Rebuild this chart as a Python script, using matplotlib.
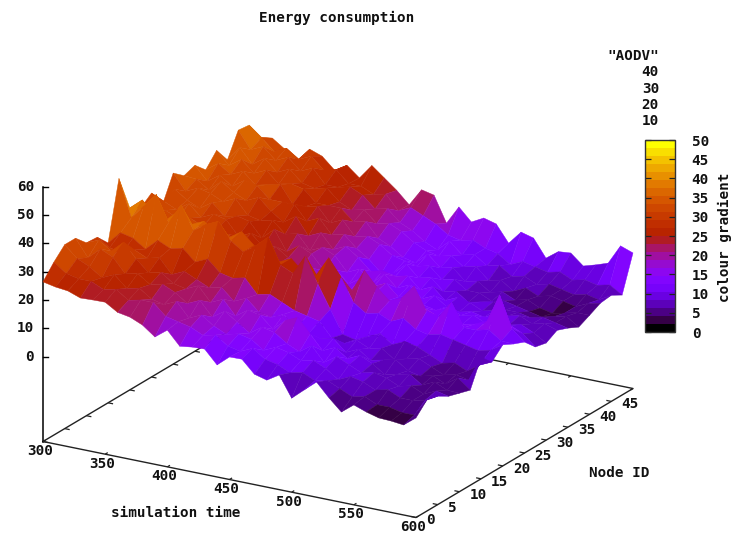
import numpy as np
import matplotlib
matplotlib.use("Agg")
import matplotlib.pyplot as plt
from matplotlib.collections import PolyCollection, LineCollection
from matplotlib.colors import ListedColormap, Normalize
from matplotlib.cm import ScalarMappable

title = "Energy consumption"
xlabel = "simulation time"
ylabel = "Node ID"
cblabel = "colour gradient"
legend_name = '"AODV"'
contour_levels = [40, 30, 20, 10]
xticks = [300, 350, 400, 450, 500, 550, 600]
yticks = [0, 5, 10, 15, 20, 25, 30, 35, 40, 45]
zticks = [0, 10, 20, 30, 40, 50, 60]
cbticks = [0, 5, 10, 15, 20, 25, 30, 35, 40, 45, 50]

times = [300, 310, 320, 330, 340, 350, 360, 370, 380, 390, 400, 410, 420, 430, 440, 450,
         460, 470, 480, 490, 500, 510, 520, 530, 540, 550, 560, 570, 580, 590, 600]
nodes = [0, 2.5, 5, 7.5, 10, 12.5, 15, 17.5, 20, 22.5, 25, 27.5, 30, 32.5, 35, 37.5, 40, 42.5, 45, 47.5, 50]
energy = [
    [26.4, 31.1, 35, 35, 31.1, 30.8, 26.5, 47, 34.3, 32, 35, 28.5, 37.5, 34.3, 35.7, 31.8, 36.4, 30.8, 39, 38.5, 30.9],
    [25.5, 28, 31, 29, 33, 28, 31, 34, 38, 31, 33, 35, 32, 34, 31, 35, 32, 36, 33, 35, 32.5],
    [25, 27, 29, 33, 30, 27, 30, 39, 34, 33, 31, 32, 34, 31, 34, 32, 35, 31, 35, 31, 29.5],
    [23.4, 27, 26, 31, 34, 29, 27, 44, 33, 31, 34, 30, 33, 35, 31, 34, 31, 34, 31, 33, 26.5],
    [23.6, 25, 28, 26, 29, 27, 31, 35, 37, 32, 30, 33, 31, 32, 34, 30, 33, 30, 33, 30, 31.3],
    [23.7, 26, 24, 27, 25, 28, 29, 42, 33, 30, 32, 29, 33, 30, 33, 31, 29, 32, 29, 32, 29.7],
    [21, 23, 25, 24, 26, 23, 30, 34, 35, 29, 31, 30, 28, 32, 29, 32, 30, 28, 31, 28, 25.7],
    [20.2, 24, 22, 25, 23, 25, 26, 37, 31, 29, 26, 29, 27, 28, 29, 26, 29, 27, 26, 29, 28.3],
    [18.3, 24, 21, 23, 22, 23, 28, 39, 31, 26, 28, 24, 28, 25, 29, 26, 25, 28, 26, 25, 24.7],
    [15, 20, 23, 20, 24, 21, 24, 33, 34, 26, 24, 28, 24, 28, 24, 27, 25, 24, 27, 25, 30],
    [18.3, 19, 18, 22, 19, 22, 23, 30, 30, 24, 25, 21, 25, 22, 26, 22, 25, 22, 25, 23, 26.5],
    [13.5, 18, 20, 17, 21, 18, 24, 33, 29, 22, 22, 24, 20, 24, 21, 24, 21, 23, 21, 24, 23],
    [14.1, 16, 17, 20, 16, 20, 19, 37, 26, 22, 19, 22, 22, 19, 22, 19, 22, 19, 22, 19, 18.8],
    [14.3, 17, 15, 17, 19, 16, 20, 28, 28, 19, 20, 17, 20, 21, 18, 20, 17, 20, 18, 21, 25],
    [9.6, 14, 16, 14, 18, 15, 18, 26, 24, 20, 16, 18, 15, 18, 15, 18, 15, 18, 16, 19, 24],
    [13.3, 13, 15, 17, 14, 17, 16, 33, 24, 17, 17, 14, 17, 14, 11, 15, 12, 15, 13, 17, 15],
    [13.4, 15, 12, 16, 18, 13, 15, 24, 31, 17, 15, 17, 13, 15, 12, 14, 11, 13, 11, 14, 21.6],
    [9, 12, 14, 13, 20, 12, 14, 16, 25, 18, 19, 15, 17, 14, 16, 13, 15, 12, 15, 13, 17.2],
    [7.8, 11, 13, 11, 15, 11, 9, 8, 17, 26, 16, 17, 13, 15, 12, 14, 11, 13, 11, 14, 19.5],
    [10.5, 9, 11, 14, 10, 12, 8, 7, 14, 21, 14, 13, 15, 11, 13, 10, 12, 10, 12, 12, 18.3],
    [3.2, 10, 12, 9, 12, 8, 10, 9, 15, 17, 15, 14, 11, 13, 9, 11, 8, 11, 9, 11, 12.4],
    [7, 8, 10, 12, 9, 10, 8, 11, 13, 19, 13, 12, 13, 9, 10, 8, 9, 7, 10, 8, 17.2],
    [10.7, 9, 7, 10, 11, 7, 9, 8, 15, 24, 14, 11, 10, 11, 7, 8, 6, 8, 7, 10, 16],
    [6, 7, 9, 8, 9, 8, 6, 10, 12, 16, 12, 13, 9, 10, 8, 6, 7, 5, 8, 9, 9.8],
    [1.9, 5, 8, 9, 6, 9, 7, 9, 11, 15, 13, 11, 10, 8, 9, 7, 5, 7, 6, 8, 13],
    [5.3, 6, 6, 8, 7, 6, 8, 7, 12, 21, 11, 12, 9, 9, 7, 6, 6, 5, 7, 9, 13.4],
    [3.7, 4, 7, 6, 8, 5, 6, 5, 11, 13, 12, 10, 11, 8, 7, 5, 4, 6, 6, 7, 9.7],
    [2.5, 4, 5, 7, 5, 6, 4, 6, 10, 13, 14, 10, 8, 9, 6, 4, 3, 5, 5, 8, 11],
    [2.3, 3, 5, 5, 7, 4, 5, 4, 9, 14, 24, 11, 9, 7, 7, 5, 4, 4, 6, 7, 12.5],
    [1.8, 3, 6, 7, 5, 7, 4, 7, 10, 11, 13, 9, 7, 8, 6, 6, 5, 6, 5, 8, 19.5],
    [5.2, 9.2, 8.3, 6, 4.8, 3.6, 12.8, 9, 12.8, 10.8, 9.2, 5.2, 4.3, 6.5, 5, 3.1, 5, 7, 7.5, 5.3, 17.9],
]

FONT = dict(family="DejaVu Sans Mono", fontweight="bold", fontsize=10.3, color="#111111")
W, H = 732, 534
INK = "#222222"


def proj(t, n, z=-30.0):
    """Oblique gnuplot-style view: data (t, n, z) to figure pixels."""
    u = (np.asarray(t, float) - 300.0) / 300.0
    v = np.asarray(n, float) / 50.0
    return 43 + 373 * u + 217 * v, 441.5 + 76 * u - 129 * v - (np.asarray(z, float) + 30) * 2.83


# gnuplot rgbformulae 7,5,15 with a limited number of colours
g = np.linspace(0, 1, 24)
palette = np.c_[np.sqrt(g), g ** 3, np.clip(np.sin(2 * np.pi * g), 0, 1)]
cmap = ListedColormap(palette)
norm = Normalize(0, 50)

fig = plt.figure(figsize=(W / 100, H / 100), dpi=100)
ax = fig.add_axes([0, 0, 1, 1])
ax.set_xlim(0, W)
ax.set_ylim(H, 0)
ax.axis("off")

# floor frame
corners_t = [300, 600, 600, 300, 300]
corners_n = [0, 0, 50, 50, 0]
fx, fy = proj(corners_t, corners_n)
ax.plot(fx, fy, color=INK, lw=1.0, zorder=1)

# z axis
zx0, zy0 = proj(300, 0, -30)
zx1, zy1 = proj(300, 0, 60)
ax.plot([zx0, zx1], [zy0, zy1], color="black", lw=1.1, zorder=1)

# ticks
segs = []
for t in xticks:
    segs.append(np.c_[proj([t, t], [0, 0.6])])
    segs.append(np.c_[proj([t, t], [50, 49.4])])
for n in yticks:
    segs.append(np.c_[proj([300, 304], [n, n])])
    segs.append(np.c_[proj([600, 596], [n, n])])
ax.add_collection(LineCollection(segs, colors=INK, linewidths=0.9, zorder=1))
for z in zticks:
    x, y = proj(300, 0, z)
    ax.plot([x, x + 5], [y, y], color="black", lw=1.0, zorder=1)
    ax.text(x - 9, y, str(z), ha="right", va="center", **FONT)
for t in xticks:
    x, y = proj(t, 0)
    ax.text(x - 3, y + 9.5, str(t), ha="center", va="center", **FONT)
for n in yticks:
    x, y = proj(600, n)
    ax.text(x + 10, y + 3, str(n), ha="left", va="center", **FONT)

# surface, painted from the far corner to the near corner
Z = np.array(energy, float)
polys, vals = [], []
for i in range(len(times) - 1):
    for j in range(len(nodes) - 2, -1, -1):
        ts = [times[i], times[i + 1], times[i + 1], times[i]]
        ns = [nodes[j], nodes[j], nodes[j + 1], nodes[j + 1]]
        zs = [Z[i, j], Z[i + 1, j], Z[i + 1, j + 1], Z[i, j + 1]]
        polys.append(np.c_[proj(ts, ns, zs)])
        vals.append(np.mean(zs))
cols = cmap(norm(vals))
ax.add_collection(PolyCollection(polys, facecolors=cols, edgecolors=cols, linewidths=0.3, zorder=2))

# labels
ax.text(337, 18, title, ha="center", va="center", **FONT)
ax.text(176, 513, xlabel, ha="center", va="center", **FONT)
ax.text(619, 473, ylabel, ha="center", va="center", **FONT)
ax.text(659, 56, legend_name, ha="right", va="center", **FONT)
for lev, yy in zip(contour_levels, [72, 89, 105, 121]):
    ax.text(659, yy, str(lev), ha="right", va="center", **FONT)
ax.text(725, 237, cblabel, ha="center", va="center", rotation=90, **FONT)

# colour box
cax = fig.add_axes([645 / W, 1 - 332 / H, 30 / W, 192 / H])
cb = fig.colorbar(ScalarMappable(norm=norm, cmap=cmap), cax=cax, ticks=cbticks)
cb.outline.set_edgecolor("#333333")
cb.outline.set_linewidth(1.0)
cax.tick_params(axis="y", which="both", direction="in", left=True, right=True,
                length=4, width=0.9, color="#222222", pad=12)
for lab in cax.get_yticklabels():
    lab.set_fontfamily(FONT["family"])
    lab.set_fontweight(FONT["fontweight"])
    lab.set_fontsize(FONT["fontsize"])
    lab.set_color(FONT["color"])

fig.savefig("out.png", dpi=100)
